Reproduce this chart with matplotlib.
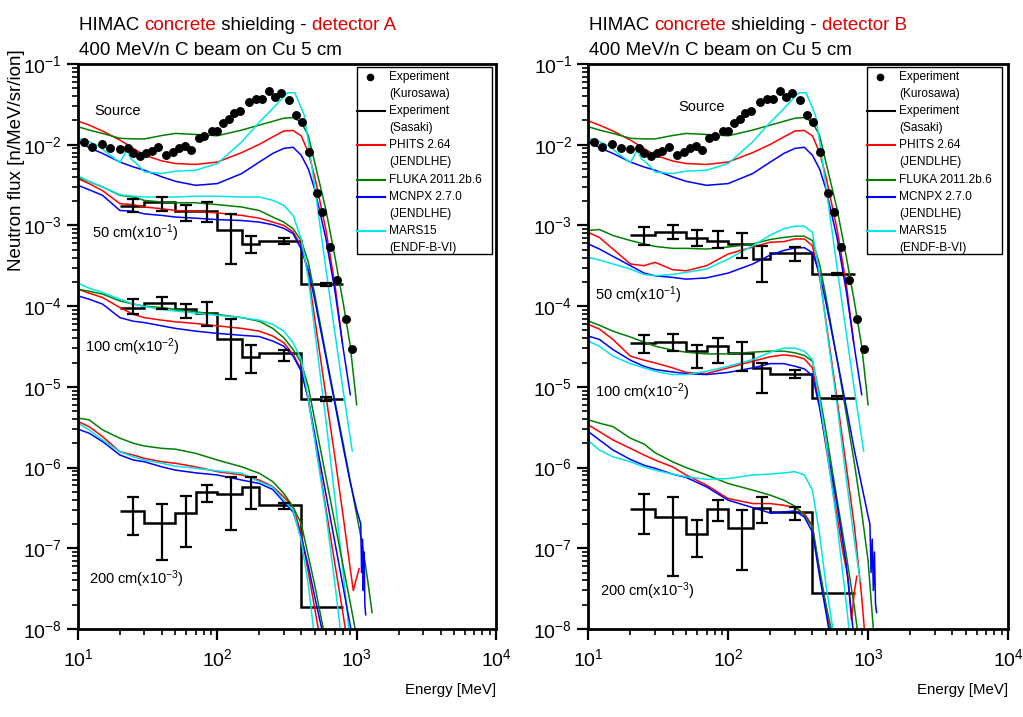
import matplotlib
matplotlib.use("Agg")
import matplotlib.pyplot as plt
from matplotlib.lines import Line2D
from matplotlib.patches import Rectangle
from matplotlib.ticker import FixedLocator, NullFormatter
import numpy as np

plt.rcParams['font.family'] = ['Liberation Sans', 'DejaVu Sans']
plt.rcParams['mathtext.fontset'] = 'custom'
plt.rcParams['mathtext.rm'] = 'Liberation Sans'
plt.rcParams['mathtext.it'] = 'Liberation Sans:italic'
plt.rcParams['mathtext.bf'] = 'Liberation Sans:bold'
plt.rcParams['mathtext.default'] = 'regular'

# ---------------- data ----------------
E_LOW = [10, 12, 15, 20, 25, 30, 40, 50, 70, 100, 150, 200, 250, 300, 350, 400]

# source term (same in both panels)
KUROSAWA_E = [11.0, 12.6, 14.8, 17.0, 20.0, 23.0, 25.0, 27.9, 30.9, 33.9, 37.8, 43.0, 48.0,
              53.5, 58.9, 64.7, 73.3, 80.5, 91.5, 99.5, 110, 122, 132, 146, 168, 188, 210,
              234, 261, 287, 326, 364, 404, 456, 521, 567, 641, 727, 835, 930]
KUROSAWA_F = [1.07e-2, 9.4e-3, 1.01e-2, 9.0e-3, 8.8e-3, 9.2e-3, 7.8e-3, 7.3e-3, 8.0e-3,
              8.3e-3, 9.4e-3, 7.4e-3, 8.2e-3, 9.0e-3, 9.7e-3, 8.6e-3, 1.20e-2, 1.29e-2,
              1.48e-2, 1.48e-2, 1.84e-2, 2.07e-2, 2.45e-2, 2.58e-2, 3.36e-2, 3.70e-2,
              3.70e-2, 4.66e-2, 3.85e-2, 4.40e-2, 3.59e-2, 2.34e-2, 1.90e-2, 8.2e-3,
              2.5e-3, 1.45e-3, 5.4e-4, 2.1e-4, 6.9e-5, 2.96e-5]

SRC_PHITS = [1.97e-2, 1.75e-2, 1.48e-2, 1.14e-2, 9.0e-3, 7.4e-3, 6.3e-3, 5.85e-3, 5.7e-3,
             6.1e-3, 8.0e-3, 1.01e-2, 1.25e-2, 1.48e-2, 1.5e-2, 1.29e-2]
SRC_PHITS_T = [(450, 8e-3), (500, 4e-3), (600, 9e-4), (700, 1.8e-4), (790, 3.5e-5)]
SRC_FLUKA = [1.67e-2, 1.52e-2, 1.38e-2, 1.20e-2, 1.18e-2, 1.18e-2, 1.30e-2, 1.38e-2, 1.34e-2,
             1.29e-2, 1.52e-2, 1.75e-2, 1.95e-2, 2.13e-2, 2.17e-2, 1.90e-2]
SRC_FLUKA_T = [(450, 1.3e-2), (500, 6e-3), (600, 1.6e-3), (700, 4e-4), (800, 1.1e-4),
               (900, 3.2e-5), (1000, 6e-6)]
SRC_MCNPX = [1.09e-2, 9.2e-3, 7.8e-3, 6.1e-3, 5.3e-3, 4.83e-3, 4.0e-3, 3.52e-3, 3.14e-3,
             3.30e-3, 4.40e-3, 6.1e-3, 7.8e-3, 9.0e-3, 9.3e-3, 7.4e-3]
SRC_MCNPX_T = [(450, 5e-3), (500, 2.8e-3), (600, 7e-4), (700, 1.5e-4), (800, 3e-5), (900, 8e-6)]
SRC_MARS_E = [10, 12, 14, 17, 20, 22.4, 24, 27, 30, 40, 50, 70, 100, 150, 200, 250, 300, 320,
              360, 420, 450, 500, 600, 700, 800, 930]
SRC_MARS = [1.2e-2, 1.09e-2, 9.7e-3, 7.4e-3, 6.0e-3, 8.6e-3, 6.7e-3, 5.6e-3, 4.6e-3, 4.4e-3,
            4.7e-3, 4.83e-3, 5.85e-3, 1.09e-2, 1.9e-2, 2.8e-2, 3.95e-2, 4.4e-2, 4.4e-2,
            2.34e-2, 1.1e-2, 3.0e-3, 3.0e-4, 4.5e-5, 9e-6, 1.6e-6]

# detector A, 50 / 100 / 200 cm (already scaled)
A50_PHITS = [3.8e-3, 3.3e-3, 2.7e-3, 1.86e-3, 1.81e-3, 1.69e-3, 1.61e-3, 1.53e-3, 1.49e-3,
             1.43e-3, 1.33e-3, 1.23e-3, 1.10e-3, 1.0e-3, 8.3e-4, 5.6e-4]
A50_PHITS_T = [(450, 2.5e-4), (500, 7e-5), (600, 8e-6), (700, 1.3e-6), (800, 2.5e-7),
               (900, 5.5e-8), (946, 3e-8), (1040, 5.6e-8)]
A50_FLUKA = [3.9e-3, 3.5e-3, 3.0e-3, 2.36e-3, 2.25e-3, 2.04e-3, 1.95e-3, 1.91e-3, 1.91e-3,
             1.81e-3, 1.69e-3, 1.53e-3, 1.27e-3, 1.10e-3, 9.1e-4, 6.5e-4]
A50_FLUKA_T = [(450, 3.5e-4), (500, 1.4e-4), (600, 2.6e-5), (700, 6.5e-6), (800, 2e-6),
               (900, 6.8e-7), (1000, 2.6e-7), (1100, 1.1e-7), (1200, 4e-8), (1290, 1.6e-8)]
A50_MCNPX = [3.14e-3, 2.77e-3, 2.36e-3, 1.53e-3, 1.5e-3, 1.39e-3, 1.33e-3, 1.27e-3, 1.23e-3,
             1.18e-3, 1.15e-3, 1.10e-3, 1.02e-3, 9.2e-4, 7.9e-4, 5.1e-4]
A50_MCNPX_T = [(450, 2.8e-4), (500, 1.2e-4), (600, 2.4e-5), (700, 6e-6), (800, 1.8e-6),
               (900, 6.5e-7), (1000, 3e-7), (1070, 2e-7), (1085, 5e-8), (1100, 1.3e-7),
               (1115, 3e-8), (1130, 9e-8), (1145, 2e-8), (1160, 1.5e-8)]
A50_MARS = [4.1e-3, 3.5e-3, 3.0e-3, 2.4e-3, 2.3e-3, 2.25e-3, 2.25e-3, 2.25e-3, 2.3e-3,
            2.3e-3, 2.25e-3, 2.25e-3, 2.05e-3, 1.77e-3, 1.33e-3, 6.8e-4]
A50_MARS_T = [(450, 2.2e-4), (500, 5e-5), (600, 4e-6), (700, 4e-7), (800, 5e-8),
              (870, 1.2e-8), (900, 5e-9)]

A100_PHITS = [1.62e-4, 1.45e-4, 1.28e-4, 9.6e-5, 7.9e-5, 7.2e-5, 6.7e-5, 6.4e-5, 6.1e-5,
              5.7e-5, 5.3e-5, 4.9e-5, 4.26e-5, 3.52e-5, 2.52e-5, 1.64e-5]
A100_PHITS_T = [(450, 7e-6), (500, 2.3e-6), (600, 3.2e-7), (700, 6.2e-8), (800, 1.5e-8),
                (900, 4e-9)]
A100_FLUKA = [1.62e-4, 1.53e-4, 1.41e-4, 1.16e-4, 1.06e-4, 1.0e-4, 9.6e-5, 9.1e-5, 8.5e-5,
              7.9e-5, 7.2e-5, 6.5e-5, 5.3e-5, 4.06e-5, 2.9e-5, 1.99e-5]
A100_FLUKA_T = [(450, 1e-5), (500, 3.9e-6), (600, 7.8e-7), (700, 2e-7), (800, 6e-8),
                (900, 2.1e-8), (1000, 8e-9)]
A100_MCNPX = [1.34e-4, 1.22e-4, 1.06e-4, 7.2e-5, 6.5e-5, 6.25e-5, 5.7e-5, 5.3e-5, 4.9e-5,
              4.6e-5, 4.35e-5, 4.2e-5, 3.69e-5, 3.19e-5, 2.4e-5, 1.56e-5]
A100_MCNPX_T = [(450, 7e-6), (500, 2.6e-6), (600, 4.8e-7), (700, 1.15e-7), (800, 3.3e-8),
                (900, 1.1e-8), (1000, 4e-9)]
A100_MARS = [1.93e-4, 1.67e-4, 1.48e-4, 1.22e-4, 1.06e-4, 9.9e-5, 9.1e-5, 8.7e-5, 8.2e-5,
             7.7e-5, 7.2e-5, 6.7e-5, 5.95e-5, 4.9e-5, 3.52e-5, 2.18e-5]
A100_MARS_T = [(450, 7e-6), (500, 2.2e-6), (600, 2.8e-7), (700, 3.5e-8), (800, 5e-9)]

A200_PHITS = [3.72e-6, 3.22e-6, 2.42e-6, 1.57e-6, 1.43e-6, 1.30e-6, 1.18e-6, 1.13e-6, 1.02e-6,
              8.9e-7, 8.1e-7, 7.0e-7, 5.8e-7, 4.33e-7, 3.25e-7, 1.52e-7]
A200_PHITS_T = [(450, 5e-8), (500, 1.8e-8), (550, 7e-9)]
A200_FLUKA = [4.1e-6, 3.91e-6, 2.93e-6, 2.31e-6, 2.0e-6, 1.85e-6, 1.73e-6, 1.69e-6, 1.5e-6,
              1.24e-6, 1.02e-6, 8.5e-7, 6.7e-7, 4.78e-7, 3.25e-7, 2.02e-7]
A200_FLUKA_T = [(450, 8e-8), (500, 3.5e-8), (600, 7e-9)]
A200_MCNPX = [2.99e-6, 2.67e-6, 2.1e-6, 1.43e-6, 1.24e-6, 1.18e-6, 1.02e-6, 9.3e-7, 8.6e-7,
              8.1e-7, 7.0e-7, 6.35e-7, 5.35e-7, 3.75e-7, 2.82e-7, 1.38e-7]
A200_MCNPX_T = [(450, 6e-8), (500, 2.5e-8), (600, 6e-9)]
A200_MARS = [3.55e-6, 2.93e-6, 2.2e-6, 1.57e-6, 1.36e-6, 1.24e-6, 1.13e-6, 1.04e-6, 9.8e-7,
             9.1e-7, 8.5e-7, 6.7e-7, 5.7e-7, 3.94e-7, 2.96e-7, 1.25e-7]
A200_MARS_T = [(450, 3.5e-8), (490, 1e-8), (520, 4e-9)]

# detector B
B50_PHITS = [8.2e-4, 7.1e-4, 5.1e-4, 3.33e-4, 3.17e-4, 3.49e-4, 2.83e-4, 2.74e-4, 3.17e-4,
             4.43e-4, 5.4e-4, 6.2e-4, 6.3e-4, 6.8e-4, 6.8e-4, 5.6e-4]
B50_PHITS_T = [(450, 2.3e-4), (500, 6.5e-5), (600, 7e-6), (700, 1e-6), (800, 1.8e-7),
               (900, 2.5e-8), (950, 8e-9)]
B50_FLUKA = [8.65e-4, 8.9e-4, 7.5e-4, 6.5e-4, 5.9e-4, 5.5e-4, 5.2e-4, 5.2e-4, 5.1e-4, 5.4e-4,
             5.9e-4, 6.7e-4, 7.1e-4, 7.35e-4, 7.35e-4, 6.5e-4]
B50_FLUKA_T = [(450, 3.3e-4), (500, 1.3e-4), (600, 2.2e-5), (700, 4.5e-6), (800, 1.1e-6),
               (900, 2.8e-7), (1000, 7e-8), (1090, 1e-8)]
B50_MCNPX = [5.9e-4, 5.1e-4, 4.14e-4, 3.17e-4, 2.57e-4, 2.38e-4, 2.27e-4, 2.16e-4, 2.24e-4,
             2.57e-4, 3.33e-4, 4.3e-4, 4.9e-4, 5.26e-4, 5.3e-4, 4.6e-4]
B50_MCNPX_T = [(450, 2.5e-4), (500, 1.1e-4), (600, 2.2e-5), (700, 5.5e-6), (800, 1.6e-6),
               (900, 6e-7), (1000, 2.5e-7), (1030, 2e-7), (1050, 5e-8), (1070, 1.3e-7),
               (1090, 3e-8), (1110, 9e-8), (1130, 2e-8), (1150, 1.6e-8)]
B50_MARS = [4.03e-4, 3.73e-4, 3.33e-4, 2.88e-4, 2.47e-4, 2.38e-4, 2.47e-4, 2.62e-4, 2.88e-4,
            3.84e-4, 5.6e-4, 7.6e-4, 9.1e-4, 9.8e-4, 9.8e-4, 8.2e-4]
B50_MARS_T = [(450, 2.5e-4), (500, 6e-5), (600, 6e-6), (700, 7e-7), (800, 1.2e-7), (877, 4e-8)]

B100_PHITS = [5.95e-5, 5.2e-5, 3.87e-5, 2.4e-5, 2.14e-5, 1.98e-5, 1.72e-5, 1.51e-5, 1.46e-5,
              1.72e-5, 2.08e-5, 2.36e-5, 2.49e-5, 2.4e-5, 2.22e-5, 1.72e-5]
B100_PHITS_T = [(450, 6e-6), (500, 1.8e-6), (600, 2.5e-7), (660, 9e-8), (720, 4.3e-8),
                (760, 1.3e-8), (800, 3e-8), (830, 4.5e-8)]
B100_FLUKA = [6.55e-5, 5.8e-5, 4.9e-5, 4.14e-5, 3.58e-5, 3.19e-5, 2.85e-5, 2.69e-5, 2.56e-5,
              2.56e-5, 2.69e-5, 2.77e-5, 2.77e-5, 2.64e-5, 2.45e-5, 2.08e-5]
B100_FLUKA_T = [(450, 8e-6), (500, 2.8e-6), (600, 4e-7), (700, 8e-8), (800, 1.8e-8), (850, 8e-9)]
B100_MCNPX = [4.26e-5, 3.87e-5, 2.9e-5, 2.14e-5, 1.8e-5, 1.64e-5, 1.53e-5, 1.46e-5, 1.42e-5,
              1.51e-5, 1.72e-5, 1.94e-5, 1.94e-5, 1.8e-5, 1.67e-5, 1.38e-5]
B100_MCNPX_T = [(450, 5.5e-6), (500, 2e-6), (600, 3.5e-7), (700, 6e-8), (780, 1e-8), (820, 5e-9)]
B100_MARS = [3.69e-5, 3.19e-5, 2.4e-5, 1.94e-5, 1.72e-5, 1.56e-5, 1.42e-5, 1.42e-5, 1.56e-5,
             1.8e-5, 2.18e-5, 2.69e-5, 3.02e-5, 3.02e-5, 2.77e-5, 2.18e-5]
B100_MARS_T = [(450, 7e-6), (500, 2e-6), (600, 2e-7), (700, 2e-8), (740, 8e-9)]

B200_PHITS = [3.38e-6, 2.79e-6, 2.2e-6, 1.73e-6, 1.43e-6, 1.24e-6, 1.02e-6, 8.1e-7, 6.05e-7,
              4.13e-7, 3.58e-7, 3.58e-7, 3.41e-7, 3.19e-7, 2.69e-7, 1.9e-7]
B200_PHITS_T = [(450, 5e-8), (500, 1.8e-8), (550, 7e-9)]
B200_FLUKA = [3.91e-6, 3.55e-6, 3.22e-6, 2.31e-6, 1.96e-6, 1.53e-6, 1.18e-6, 1.0e-6, 8.1e-7,
              6.35e-7, 5.25e-7, 4.55e-7, 3.94e-7, 3.32e-7, 2.56e-7, 1.83e-7]
B200_FLUKA_T = [(450, 5.5e-8), (500, 2e-8), (560, 8e-9)]
B200_MCNPX = [2.79e-6, 2.2e-6, 1.65e-6, 1.26e-6, 1.07e-6, 9.8e-7, 8.3e-7, 7.55e-7, 5.77e-7,
              3.94e-7, 3.19e-7, 2.74e-7, 2.82e-7, 2.9e-7, 2.44e-7, 1.59e-7]
B200_MCNPX_T = [(450, 4.5e-8), (500, 1.6e-8), (550, 6e-9)]
B200_MARS = [2.16e-6, 1.65e-6, 1.36e-6, 1.18e-6, 1.02e-6, 9.3e-7, 8.3e-7, 7.7e-7, 7.15e-7,
             7.3e-7, 8.1e-7, 8.3e-7, 8.6e-7, 8.9e-7, 8.1e-7, 5.25e-7]
B200_MARS_T = [(450, 1.5e-7), (500, 3.5e-8), (560, 1e-8), (600, 5e-9)]

# Sasaki histograms
SASAKI_EDGES = [20, 30, 50, 70, 100, 150, 200, 400, 800]
SASAKI_MID = [25, 40, 60, 85, 125, 175, 300, 600]
nan = float('nan')

A50_SAS = [1.75e-3, 1.93e-3, 1.53e-3, 1.50e-3, 8.7e-4, 5.9e-4, 6.5e-4, 1.87e-4]
A50_SAS_LO = [1.46e-3, 1.53e-3, 1.15e-3, 1.1e-3, 3.3e-4, 4.6e-4, 5.9e-4, 1.78e-4]
A50_SAS_HI = [2.1e-3, 2.25e-3, 1.77e-3, 1.95e-3, 1.39e-3, 7.5e-4, 7.0e-4, 1.96e-4]
A100_SAS = [9.6e-5, 1.08e-4, 9.3e-5, 8.2e-5, 3.95e-5, 2.35e-5, 2.6e-5, 7.0e-6]
A100_SAS_LO = [7.9e-5, 9.1e-5, 7.2e-5, 5.7e-5, 1.26e-5, 1.5e-5, 2.1e-5, 6.6e-6]
A100_SAS_HI = [1.22e-4, 1.28e-4, 1.06e-4, 1.11e-4, 6.9e-5, 3.3e-5, 2.9e-5, 7.4e-6]
A200_SAS = [2.9e-7, 2.05e-7, 2.77e-7, 5.0e-7, 4.7e-7, 5.7e-7, 3.41e-7, 1.85e-8]
A200_SAS_LO = [1.46e-7, 7.1e-8, 1.03e-7, 3.75e-7, 1.7e-7, 3.1e-7, 3.1e-7, nan]
A200_SAS_HI = [4.33e-7, 3.5e-7, 4.4e-7, 6.05e-7, 7.6e-7, 7.6e-7, 3.6e-7, nan]

B50_SAS = [7.6e-4, 8.4e-4, 6.95e-4, 6.5e-4, 5.9e-4, 3.84e-4, 4.6e-4, 2.5e-4]
B50_SAS_LO = [5.7e-4, 6.7e-4, 5.5e-4, 5.2e-4, 3.9e-4, 2.0e-4, 3.6e-4, 2.4e-4]
B50_SAS_HI = [9.5e-4, 1.0e-3, 8.9e-4, 8.65e-4, 8.1e-4, 5.6e-4, 5.4e-4, 2.6e-4]
B100_SAS = [3.5e-5, 3.6e-5, 2.8e-5, 3.2e-5, 2.6e-5, 1.7e-5, 1.46e-5, 7.3e-6]
B100_SAS_LO = [2.64e-5, 2.77e-5, 1.72e-5, 2.0e-5, 1.56e-5, 8.5e-6, 1.29e-5, 7.0e-6]
B100_SAS_HI = [4.4e-5, 4.5e-5, 3.3e-5, 4.06e-5, 3.6e-5, 2.0e-5, 1.64e-5, 7.6e-6]
B200_SAS = [3.1e-7, 2.44e-7, 1.51e-7, 3.1e-7, 1.78e-7, 3.19e-7, 2.82e-7, 2.8e-8]
B200_SAS_LO = [1.49e-7, 4.6e-8, 7.7e-8, 2.2e-7, 5.4e-8, 2.08e-7, 2.27e-7, nan]
B200_SAS_HI = [4.68e-7, 4.33e-7, 2.27e-7, 3.94e-7, 3.0e-7, 4.26e-7, 3.25e-7, nan]

X_MAJOR = [1e1, 1e2, 1e3, 1e4]
Y_MAJOR = [1e-8, 1e-7, 1e-6, 1e-5, 1e-4, 1e-3, 1e-2, 1e-1]

CODES = ['PHITS', 'FLUKA', 'MCNPX', 'MARS']
COLORS = {'PHITS': '#ff0000', 'FLUKA': '#008000', 'MCNPX': '#0000ff', 'MARS': '#00e6e6'}
LEGEND_ROWS = [('dot', 'black', 'Experiment', '(Kurosawa)'),
               ('line', 'black', 'Experiment', '(Sasaki)'),
               ('line', COLORS['PHITS'], 'PHITS 2.64', '(JENDLHE)'),
               ('line', COLORS['FLUKA'], 'FLUKA 2011.2b.6', None),
               ('line', COLORS['MCNPX'], 'MCNPX 2.7.0', '(JENDLHE)'),
               ('line', COLORS['MARS'], 'MARS15', '(ENDF-B-VI)')]

W, H = 1023, 717


def fx(px):
    return px / W


def fy(py):
    return 1 - py / H


def join(low, tail):
    return E_LOW + [p[0] for p in tail], low + [p[1] for p in tail]


def minor_ticks(majors):
    return [m * k for m in majors[:-1] for k in range(2, 10)]


def draw_panel(ax, sims, sasaki, labels):
    ax.set_xscale('log')
    ax.set_yscale('log')
    ax.set_xlim(10, 1e4)
    ax.set_ylim(1e-8, 1e-1)

    # source term
    src = {'PHITS': join(SRC_PHITS, SRC_PHITS_T), 'FLUKA': join(SRC_FLUKA, SRC_FLUKA_T),
           'MCNPX': join(SRC_MCNPX, SRC_MCNPX_T), 'MARS': (SRC_MARS_E, SRC_MARS)}
    for code in CODES:
        e, f = src[code]
        ax.plot(e, f, color=COLORS[code], lw=1.1)
    for depth in sims:
        for code in CODES:
            e, f = join(*depth[code])
            ax.plot(e, f, color=COLORS[code], lw=1.1)

    for vals, lo, hi in sasaki:
        ax.stairs(vals, SASAKI_EDGES, baseline=None, color='black', lw=1.8)
        v = np.array(vals)
        err = np.array([v - np.array(lo), np.array(hi) - v])
        ax.errorbar(SASAKI_MID, vals, yerr=err, fmt='none', ecolor='black',
                    elinewidth=1.6, capsize=4, capthick=1.6)

    ax.plot(KUROSAWA_E, KUROSAWA_F, 'o', color='black', ms=5.4, mec='black')

    for text, x, y in labels:
        ax.text(x, y, text, fontsize=10.5, ha='left', va='center')

    for s in ax.spines.values():
        s.set_linewidth(2)
    ax.xaxis.set_major_locator(FixedLocator(X_MAJOR))
    ax.yaxis.set_major_locator(FixedLocator(Y_MAJOR))
    ax.xaxis.set_minor_locator(FixedLocator(minor_ticks(X_MAJOR)))
    ax.yaxis.set_minor_locator(FixedLocator(minor_ticks(Y_MAJOR)))
    ax.xaxis.set_minor_formatter(NullFormatter())
    ax.yaxis.set_minor_formatter(NullFormatter())
    ax.tick_params(which='major', direction='out', length=8, width=1.6, labelsize=14)
    ax.tick_params(which='minor', direction='out', length=4, width=1.2)
    ax.tick_params(axis='x', which='major', pad=6)


def draw_legend(fig, x0):
    # x0: left edge of the legend box in figure pixels
    box = Rectangle((fx(x0), fy(254)), fx(x0 + 135) - fx(x0), fy(67) - fy(254),
                    transform=fig.transFigure, fill=False, lw=1.0, ec='black')
    fig.add_artist(box)
    row = 0
    for kind, color, l1, l2 in LEGEND_ROWS:
        y = 77 + 17.1 * row
        if kind == 'dot':
            fig.add_artist(Line2D([fx(x0 + 13)], [fy(y)], marker='o', ms=4.5, color='black',
                                  transform=fig.transFigure))
        else:
            fig.add_artist(Line2D([fx(x0), fx(x0 + 28)], [fy(y), fy(y)], color=color, lw=1.5,
                                  transform=fig.transFigure))
        fig.text(fx(x0 + 32), fy(y), l1, fontsize=8.6, va='center', ha='left')
        row += 1
        if l2:
            fig.text(fx(x0 + 32), fy(77 + 17.1 * row), l2, fontsize=8.6, va='center', ha='left')
            row += 1


def draw_title(fig, x, parts):
    t = fig.text(fx(x), fy(30), parts[0][0], color=parts[0][1], fontsize=13.5,
                 va='baseline', ha='left')
    fig.canvas.draw()
    r = fig.canvas.get_renderer()
    for s, c in parts[1:]:
        bb = t.get_window_extent(renderer=r)
        t = fig.text(bb.x1 / fig.dpi / fig.get_figwidth(), fy(30), s, color=c, fontsize=13.5,
                     va='baseline', ha='left')


fig = plt.figure(figsize=(W / 100, H / 100), dpi=100)
axA = fig.add_axes([fx(78), fy(629), fx(496) - fx(78), fy(64) - fy(629)])
axB = fig.add_axes([fx(588.3), fy(629), fx(1008) - fx(588.3), fy(64) - fy(629)])

simsA = [{'PHITS': (A50_PHITS, A50_PHITS_T), 'FLUKA': (A50_FLUKA, A50_FLUKA_T),
          'MCNPX': (A50_MCNPX, A50_MCNPX_T), 'MARS': (A50_MARS, A50_MARS_T)},
         {'PHITS': (A100_PHITS, A100_PHITS_T), 'FLUKA': (A100_FLUKA, A100_FLUKA_T),
          'MCNPX': (A100_MCNPX, A100_MCNPX_T), 'MARS': (A100_MARS, A100_MARS_T)},
         {'PHITS': (A200_PHITS, A200_PHITS_T), 'FLUKA': (A200_FLUKA, A200_FLUKA_T),
          'MCNPX': (A200_MCNPX, A200_MCNPX_T), 'MARS': (A200_MARS, A200_MARS_T)}]
simsB = [{'PHITS': (B50_PHITS, B50_PHITS_T), 'FLUKA': (B50_FLUKA, B50_FLUKA_T),
          'MCNPX': (B50_MCNPX, B50_MCNPX_T), 'MARS': (B50_MARS, B50_MARS_T)},
         {'PHITS': (B100_PHITS, B100_PHITS_T), 'FLUKA': (B100_FLUKA, B100_FLUKA_T),
          'MCNPX': (B100_MCNPX, B100_MCNPX_T), 'MARS': (B100_MARS, B100_MARS_T)},
         {'PHITS': (B200_PHITS, B200_PHITS_T), 'FLUKA': (B200_FLUKA, B200_FLUKA_T),
          'MCNPX': (B200_MCNPX, B200_MCNPX_T), 'MARS': (B200_MARS, B200_MARS_T)}]

sasA = [(A50_SAS, A50_SAS_LO, A50_SAS_HI), (A100_SAS, A100_SAS_LO, A100_SAS_HI),
        (A200_SAS, A200_SAS_LO, A200_SAS_HI)]
sasB = [(B50_SAS, B50_SAS_LO, B50_SAS_HI), (B100_SAS, B100_SAS_LO, B100_SAS_HI),
        (B200_SAS, B200_SAS_LO, B200_SAS_HI)]

labelsA = [('Source', 13.2, 2.6e-2), ('50 cm(x10$^{-1}$)', 12.5, 8.0e-4),
           ('100 cm(x10$^{-2}$)', 11.2, 3.1e-5), ('200 cm(x10$^{-3}$)', 12.05, 4.1e-8)]
labelsB = [('Source', 43.8, 2.97e-2), ('50 cm(x10$^{-1}$)', 11.2, 1.36e-4),
           ('100 cm(x10$^{-2}$)', 11.2, 8.5e-6), ('200 cm(x10$^{-3}$)', 12.1, 2.9e-8)]

draw_panel(axA, simsA, sasA, labelsA)
draw_panel(axB, simsB, sasB, labelsB)
draw_legend(fig, 357)
draw_legend(fig, 867)

draw_title(fig, 79, [('HIMAC ', 'black'), ('concrete', '#e00000'), (' shielding - ', 'black'),
                     ('detector A', '#e00000')])
draw_title(fig, 589, [('HIMAC ', 'black'), ('concrete', '#e00000'), (' shielding - ', 'black'),
                      ('detector B', '#e00000')])
fig.text(fx(79), fy(55), '400 MeV/n C beam on Cu 5 cm', fontsize=13.5, va='baseline')
fig.text(fx(589), fy(55), '400 MeV/n C beam on Cu 5 cm', fontsize=13.5, va='baseline')

fig.text(fx(496), fy(690), 'Energy [MeV]', fontsize=10.8, ha='right', va='center')
fig.text(fx(1008), fy(690), 'Energy [MeV]', fontsize=10.8, ha='right', va='center')
fig.text(fx(17), fy(160), 'Neutron flux [n/MeV/sr/ion]', fontsize=13.5, rotation=90,
         ha='center', va='center')

fig.savefig('out.png', dpi=100)
